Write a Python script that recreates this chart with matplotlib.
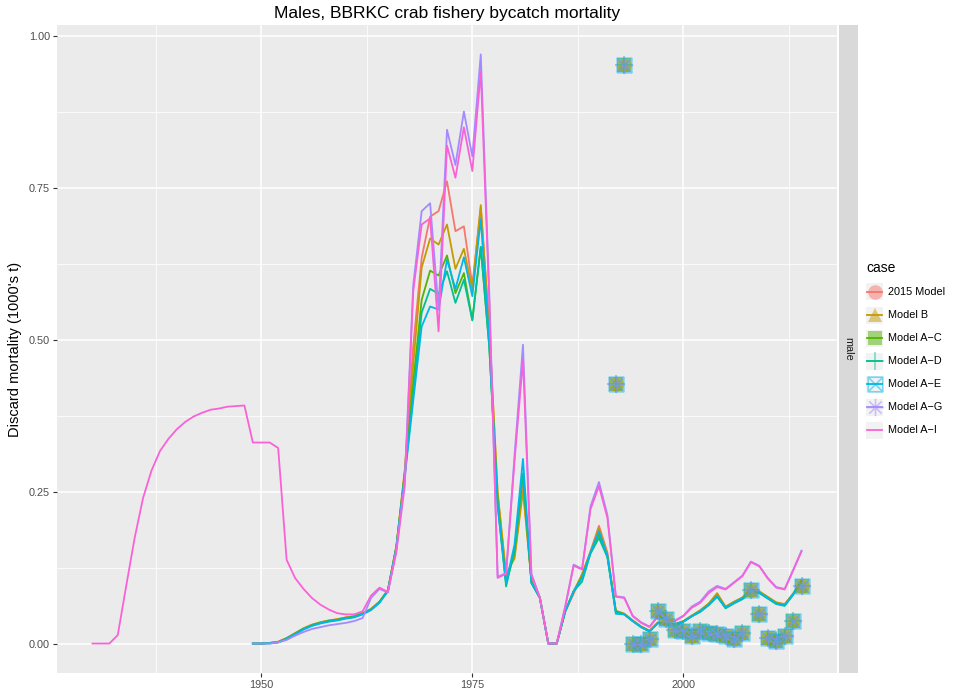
import matplotlib
matplotlib.use("Agg")
import matplotlib.pyplot as plt
from matplotlib.path import Path
from matplotlib.lines import Line2D
from matplotlib.patches import Rectangle
import numpy as np

plt.rcParams['font.family'] = ['Liberation Sans', 'DejaVu Sans']

# ---------------- data ----------------
years_ai = list(range(1930, 2015))
years_m = list(range(1949, 2015))
obs_years = list(range(1992, 2015))

model_ai = [0.000, 0.000, 0.000, 0.014, 0.095, 0.174, 0.240, 0.285, 0.317, 0.337,
            0.353, 0.365, 0.374, 0.380, 0.385, 0.387, 0.390, 0.391, 0.392,
            0.331, 0.331, 0.331, 0.322, 0.138, 0.108, 0.090, 0.075, 0.064, 0.056, 0.050,
            0.048, 0.048, 0.053, 0.079, 0.092, 0.085, 0.150, 0.260, 0.580, 0.690,
            0.700, 0.514, 0.820, 0.767, 0.850, 0.778, 0.942, 0.570, 0.108, 0.115,
            0.300, 0.467, 0.113, 0.075, 0.000, 0.000, 0.060, 0.128, 0.122, 0.221,
            0.259, 0.207, 0.077, 0.075, 0.045, 0.034, 0.027, 0.045, 0.038, 0.037,
            0.045, 0.059, 0.067, 0.083, 0.093, 0.089, 0.100, 0.111, 0.134, 0.127,
            0.107, 0.092, 0.089, 0.120, 0.152]

model_ag = [0.000, 0.000, 0.000, 0.002, 0.006, 0.013, 0.019, 0.024, 0.027, 0.030,
            0.032, 0.034, 0.037, 0.042, 0.075, 0.090, 0.084, 0.155, 0.270, 0.590,
            0.712, 0.725, 0.550, 0.846, 0.788, 0.876, 0.802, 0.970, 0.580, 0.110,
            0.116, 0.310, 0.492, 0.115, 0.076, 0.000, 0.000, 0.061, 0.130, 0.123,
            0.226, 0.266, 0.212, 0.078, 0.076, 0.046, 0.035, 0.028, 0.046, 0.039,
            0.038, 0.046, 0.061, 0.069, 0.086, 0.095, 0.090, 0.101, 0.112, 0.135,
            0.128, 0.108, 0.093, 0.090, 0.121, 0.153]

model_2015 = [0.000, 0.000, 0.001, 0.003, 0.009, 0.017, 0.025, 0.031, 0.035, 0.038,
              0.040, 0.043, 0.045, 0.050, 0.057, 0.069, 0.088, 0.160, 0.285, 0.490,
              0.635, 0.703, 0.712, 0.761, 0.679, 0.687, 0.590, 0.718, 0.520, 0.245,
              0.110, 0.145, 0.260, 0.105, 0.076, 0.000, 0.000, 0.052, 0.082, 0.114,
              0.152, 0.194, 0.150, 0.054, 0.049, 0.038, 0.028, 0.021, 0.035, 0.032,
              0.032, 0.037, 0.046, 0.054, 0.065, 0.080, 0.060, 0.068, 0.075, 0.088,
              0.085, 0.076, 0.067, 0.064, 0.082, 0.104]

model_b = [0.000, 0.000, 0.001, 0.003, 0.009, 0.017, 0.025, 0.031, 0.035, 0.038,
           0.040, 0.043, 0.045, 0.050, 0.057, 0.069, 0.088, 0.160, 0.285, 0.460,
           0.619, 0.667, 0.657, 0.690, 0.617, 0.650, 0.583, 0.722, 0.520, 0.250,
           0.115, 0.140, 0.251, 0.103, 0.076, 0.000, 0.000, 0.053, 0.086, 0.114,
           0.150, 0.190, 0.146, 0.054, 0.049, 0.038, 0.028, 0.021, 0.035, 0.032,
           0.032, 0.037, 0.046, 0.055, 0.066, 0.083, 0.061, 0.069, 0.076, 0.090,
           0.086, 0.077, 0.068, 0.065, 0.082, 0.104]

model_ac = [0.000, 0.000, 0.001, 0.002, 0.008, 0.016, 0.024, 0.030, 0.034, 0.037,
            0.039, 0.042, 0.044, 0.049, 0.056, 0.068, 0.088, 0.160, 0.280, 0.430,
            0.566, 0.614, 0.606, 0.639, 0.577, 0.610, 0.533, 0.653, 0.490, 0.235,
            0.100, 0.150, 0.280, 0.100, 0.075, 0.000, 0.000, 0.053, 0.086, 0.110,
            0.150, 0.180, 0.144, 0.053, 0.048, 0.037, 0.027, 0.020, 0.034, 0.031,
            0.031, 0.036, 0.045, 0.053, 0.064, 0.078, 0.059, 0.067, 0.074, 0.086,
            0.084, 0.075, 0.066, 0.063, 0.081, 0.103]

model_ad = [0.000, 0.000, 0.001, 0.002, 0.008, 0.016, 0.024, 0.030, 0.034, 0.037,
            0.039, 0.042, 0.044, 0.049, 0.056, 0.068, 0.087, 0.158, 0.278, 0.410,
            0.545, 0.584, 0.576, 0.613, 0.561, 0.599, 0.532, 0.653, 0.490, 0.230,
            0.094, 0.155, 0.280, 0.100, 0.075, 0.000, 0.000, 0.053, 0.086, 0.102,
            0.148, 0.174, 0.142, 0.052, 0.048, 0.037, 0.027, 0.020, 0.034, 0.031,
            0.031, 0.036, 0.045, 0.052, 0.063, 0.077, 0.058, 0.066, 0.073, 0.085,
            0.083, 0.074, 0.065, 0.062, 0.080, 0.102]

model_ae = [0.000, 0.000, 0.000, 0.002, 0.007, 0.015, 0.023, 0.029, 0.033, 0.036,
            0.038, 0.041, 0.043, 0.048, 0.055, 0.067, 0.086, 0.156, 0.275, 0.400,
            0.522, 0.555, 0.550, 0.632, 0.584, 0.636, 0.572, 0.699, 0.500, 0.225,
            0.100, 0.163, 0.304, 0.100, 0.075, 0.000, 0.000, 0.053, 0.086, 0.108,
            0.150, 0.185, 0.144, 0.049, 0.048, 0.037, 0.027, 0.020, 0.034, 0.031,
            0.031, 0.036, 0.045, 0.053, 0.064, 0.078, 0.059, 0.067, 0.075, 0.086,
            0.084, 0.075, 0.066, 0.063, 0.081, 0.103]

obs_values = [0.427, 0.953, 0.000, 0.000, 0.008, 0.053, 0.040, 0.023, 0.021, 0.013,
              0.020, 0.018, 0.015, 0.013, 0.008, 0.018, 0.088, 0.048, 0.009, 0.005,
              0.013, 0.037, 0.094]

cases = ["2015 Model", "Model B", "Model A\u2212C", "Model A\u2212D",
         "Model A\u2212E", "Model A\u2212G", "Model A\u2212I"]
colors = ["#F8766D", "#C49A00", "#53B400", "#00C094", "#00B6EB", "#A58AFF", "#FB61D7"]

# ---------------- markers ----------------
M, L = Path.MOVETO, Path.LINETO
boxx = Path([(-1, -1), (1, -1), (1, 1), (-1, 1), (-1, -1), (-1, -1), (1, 1), (-1, 1), (1, -1)],
            [M, L, L, L, L, M, L, M, L])
r = 0.7071
aster = Path([(-1, 0), (1, 0), (0, -1), (0, 1), (-r, -r), (r, r), (-r, r), (r, -r)],
             [M, L, M, L, M, L, M, L])
marker_specs = [
    dict(marker='o', ms=10.5, mfc=None, mew=0),
    dict(marker='^', ms=10.5, mfc=None, mew=0),
    dict(marker='s', ms=10, mfc=None, mew=0),
    dict(marker='+', ms=12.5, mfc='none', mew=1.2),
    dict(marker=boxx, ms=10.5, mfc='none', mew=1.2),
    dict(marker=aster, ms=12.5, mfc='none', mew=1.2),
    None,
]

series = [(years_m, model_2015), (years_m, model_b), (years_m, model_ac), (years_m, model_ad),
          (years_m, model_ae), (years_m, model_ag), (years_ai, model_ai)]

# ---------------- figure ----------------
W, H = 961, 693
fig = plt.figure(figsize=(W / 100, H / 100), dpi=100)
fig.patch.set_facecolor('white')
pl, pr, pt, pb = 57, 837, 25, 673
ax = fig.add_axes([pl / W, 1 - pb / H, (pr - pl) / W, (pb - pt) / H])
ax.set_facecolor('#EBEBEB')
for s in ax.spines.values():
    s.set_visible(False)

xmin, xmax = 1930, 2014
ymin, ymax = 0.0, 0.970
ax.set_xlim(xmin - 0.05 * (xmax - xmin), xmax + 0.05 * (xmax - xmin))
ax.set_ylim(ymin - 0.05 * (ymax - ymin), ymax + 0.05 * (ymax - ymin))

ax.set_xticks([1950, 1975, 2000])
ax.set_xticks([1937.5, 1962.5, 1987.5, 2012.5], minor=True)
ax.set_yticks([0, 0.25, 0.5, 0.75, 1.0])
ax.set_yticklabels(["0.00", "0.25", "0.50", "0.75", "1.00"])
ax.set_yticks([0.125, 0.375, 0.625, 0.875], minor=True)
ax.grid(which='major', color='white', lw=1.1)
ax.grid(which='minor', color='white', lw=0.55)
ax.set_axisbelow(True)
ax.tick_params(which='major', length=3, width=0.8, color='#333333', labelsize=7.8,
               labelcolor='#4D4D4D', pad=2)
ax.tick_params(which='minor', length=0)

for (xs, ys), c in zip(series, colors):
    ax.plot(xs, ys, color=c, lw=1.3, solid_joinstyle='round', zorder=2)

for spec, c in zip(marker_specs, colors):
    if spec is None:
        continue
    kw = dict(spec)
    mfc = kw.pop('mfc')
    ax.plot(obs_years, obs_values, linestyle='none', color=c, alpha=0.5,
            markerfacecolor=c if mfc is None else mfc, markeredgecolor=c, zorder=3, **kw)

ax.set_ylabel("Discard mortality (1000's t)", fontsize=10.5, color='black', labelpad=5)
ax.set_title("Males, BBRKC crab fishery bycatch mortality", fontsize=12.5, color='black', pad=5)

# strip on the right
sx0, sx1 = 839, 858
fig.add_artist(Rectangle((sx0 / W, 1 - pb / H), (sx1 - sx0) / W, (pb - pt) / H,
                         transform=fig.transFigure, facecolor='#D9D9D9', edgecolor='none'))
fig.text((sx0 + sx1) / 2 / W, 1 - (pt + pb) / 2 / H, "male", rotation=-90, ha='center',
         va='center', fontsize=7.8, color='#1A1A1A')

# legend (manual)
fig.text(866 / W, 1 - 268 / H, "case", fontsize=10, ha='left', va='center', color='black')
key_w, key_h = 17, 17
for i, (lab, c, spec) in enumerate(zip(cases, colors, marker_specs)):
    yc = 292 + i * 23
    kx0 = 866
    fig.add_artist(Rectangle((kx0 / W, 1 - (yc + key_h / 2) / H), key_w / W, key_h / H,
                             transform=fig.transFigure, facecolor='#F2F2F2', edgecolor='none'))
    fig.add_artist(Line2D([(kx0 + 1) / W, (kx0 + key_w - 1) / W], [1 - yc / H, 1 - yc / H],
                          transform=fig.transFigure, color=c, lw=1.3))
    if spec is not None:
        kw = dict(spec)
        mfc = kw.pop('mfc')
        fig.add_artist(Line2D([(kx0 + key_w / 2) / W], [1 - yc / H], transform=fig.transFigure,
                              linestyle='none', color=c, alpha=0.5,
                              markerfacecolor=c if mfc is None else mfc, markeredgecolor=c, **kw))
    fig.text((kx0 + key_w + 5) / W, 1 - yc / H, lab, fontsize=7.8, ha='left', va='center',
             color='black')

fig.savefig("out.png", dpi=100)
